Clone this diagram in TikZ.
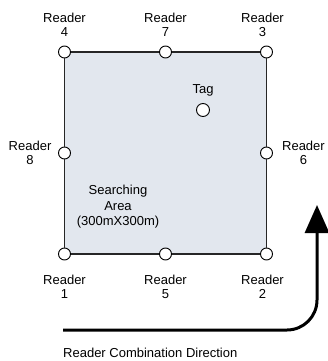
\documentclass[tikz,border=0pt]{standalone}
\usepackage{fontspec}
\setmainfont{Liberation Sans}
\usetikzlibrary{positioning,arrows.meta,backgrounds}
\definecolor{areafill}{RGB}{226,231,238}

\begin{document}
\begin{tikzpicture}[x=1pt,y=-1pt,
	font=\fontsize{13}{14}\selectfont,
	reader/.style={circle,draw,fill=white,line width=0.9pt,minimum size=12pt,inner sep=0pt},
	rlabel/.style={align=center,inner sep=0pt},
	edge/.style={line width=1.2pt,draw=black!85}]
\useasboundingbox (0,0) rectangle (328,361);

% readers round the area
\node[reader] (r4) at (64.5,52) {};
\node[reader] (r7) at (165.5,52) {};
\node[reader] (r3) at (266.5,52) {};
\node[reader] (r8) at (64.5,153) {};
\node[reader] (r6) at (266.5,153) {};
\node[reader] (r1) at (64.5,254) {};
\node[reader] (r5) at (165.5,254) {};
\node[reader] (r2) at (266.5,254) {};
\node[reader,minimum size=13pt] (tag) at (203,110) {};

\begin{scope}[on background layer]
\fill[areafill] (r4.center) rectangle (r2.center);
\end{scope}
\draw[edge] (r4) -- (r7) -- (r3) -- (r6) -- (r2) -- (r5) -- (r1) -- (r8) -- (r4);

\node[rlabel,above=9pt of r4] (l4) {Reader\\4};
\node[rlabel,above=9pt of r7] (l7) {Reader\\7};
\node[rlabel,above=9pt of r3,xshift=-4pt] (l3) {Reader\\3};
\node[rlabel,left=6.5pt of r8] (l8) {Reader\\8};
\node[rlabel,right=9pt of r6] (l6) {Reader\\6};
\node[rlabel,below=14pt of r1] (l1) {Reader\\1};
\node[rlabel,below=14pt of r5] (l5) {Reader\\5};
\node[rlabel,below=14pt of r2,xshift=-4pt] (l2) {Reader\\2};
\node[rlabel,above=7pt of tag] (taglabel) {Tag};

\node[rlabel,font=\fontsize{13}{15.5}\selectfont] (area) at (118,207) {Searching\\Area\\(300mX300m)};

% combination direction
\coordinate (dirstart) at (63,330);
\coordinate (dirtip) at (317,205);
\draw[line width=3pt,rounded corners=30pt,-{Triangle[length=28pt,width=24pt]}] (dirstart) -| (dirtip);
\node[anchor=base west,inner sep=0pt] (dirlabel) at (63,357.5) {Reader Combination Direction};
\end{tikzpicture}
\end{document}
